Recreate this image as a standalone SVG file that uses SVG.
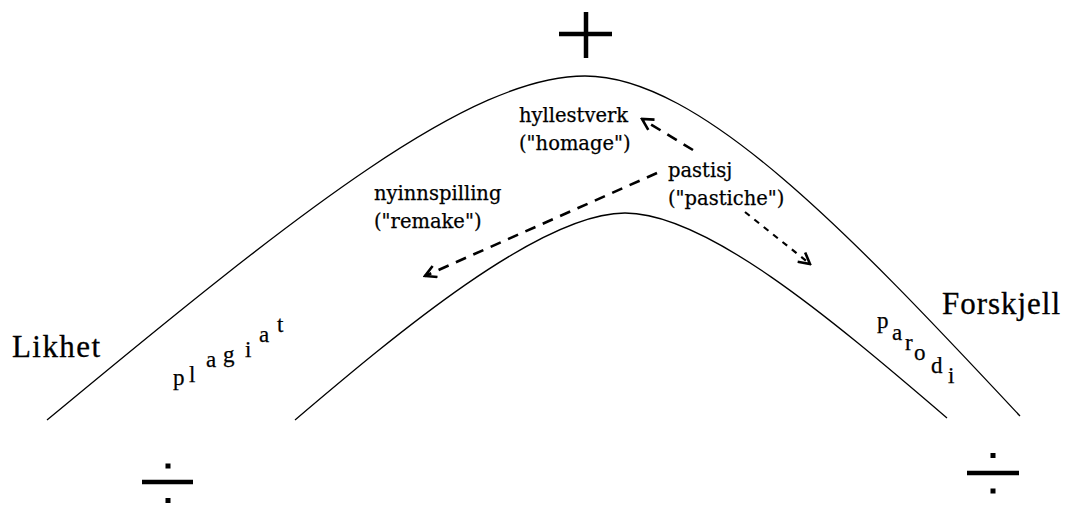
<svg xmlns="http://www.w3.org/2000/svg" width="1067" height="506" viewBox="0 0 1067 506">
<style>
.curve{fill:none;stroke:#000;stroke-width:1.3}
.lbl{font-family:'DejaVu Serif',serif;font-size:19.5px;fill:#000;stroke:#000;stroke-width:0.25}
.big{font-family:'Liberation Serif','Times New Roman',Tinos,'Nimbus Roman',serif;font-size:31px;fill:#000;stroke:#000;stroke-width:0.3}
.let{font-family:'Liberation Serif','Times New Roman',Tinos,'Nimbus Roman',serif;font-size:23px;fill:#000;stroke:#000;stroke-width:0.25}
.sym{stroke:#000;stroke-width:4.5;fill:none}
.dash{fill:none;stroke:#000;stroke-width:2.6;stroke-dasharray:11 8}
.dot{fill:none;stroke:#000;stroke-width:2.2;stroke-dasharray:6 6}
</style>
<defs>
<marker id="ah" viewBox="0 0 14 14" refX="12" refY="7" markerWidth="14" markerHeight="14" markerUnits="userSpaceOnUse" orient="auto">
<path d="M1,1 L12,7 L1,13" fill="none" stroke="#000" stroke-width="2.6"/>
</marker>
</defs>
<rect width="1067" height="506" fill="#fff"/>
<g id="outer-curve"><path class="curve" d="M47,420 C300,210 470,76 585,76 C700,76 850,234 1020,416"/></g>
<g id="inner-curve"><path class="curve" d="M295,420 C395,335 540,213 625,213 C705,213 827,315 947,418"/></g>
<g id="plus"><line class="sym" x1="559" y1="34" x2="612" y2="34"/><line class="sym" x1="586" y1="12" x2="586" y2="58"/></g>
<g id="minus-left"><line class="sym" x1="142" y1="482" x2="193" y2="482"/><rect x="165.5" y="463.5" width="5" height="5"/><rect x="165.5" y="498" width="5" height="5"/></g>
<g id="minus-right"><line class="sym" x1="967" y1="473" x2="1019" y2="473"/><rect x="990.5" y="453" width="5" height="5"/><rect x="990.5" y="488.5" width="5" height="5"/></g>
<g id="likhet"><text class="big" x="12" y="357" textLength="88">Likhet</text></g>
<g id="forskjell"><text class="big" x="942" y="314" textLength="118">Forskjell</text></g>
<g id="hyllestverk"><text class="lbl" x="519" y="122">hyllestverk</text><text class="lbl" x="519" y="150">("homage")</text></g>
<g id="pastisj"><text class="lbl" x="668" y="177">pastisj</text><text class="lbl" x="668" y="205">("pastiche")</text></g>
<g id="nyinnspilling"><text class="lbl" x="374" y="200">nyinnspilling</text><text class="lbl" x="374" y="228">("remake")</text></g>
<g id="plagiat" class="let">
<text x="173" y="385">p</text><text x="189" y="382">l</text><text x="206" y="367">a</text><text x="223" y="362">g</text><text x="245" y="357">i</text><text x="259" y="342">a</text><text x="277" y="332">t</text>
</g>
<g id="parodi" class="let">
<text x="877" y="328">p</text><text x="892" y="340">a</text><text x="905" y="350">r</text><text x="914" y="360">o</text><text x="931" y="373">d</text><text x="948" y="383">i</text>
</g>
<g id="connectors">
<path class="dash" d="M693,150 L642,119" marker-end="url(#ah)"/>
<path class="dash" d="M657,173 L425,276" marker-end="url(#ah)"/>
<path class="dot" d="M745,212 L810,264" marker-end="url(#ah)"/>
</g>
</svg>
